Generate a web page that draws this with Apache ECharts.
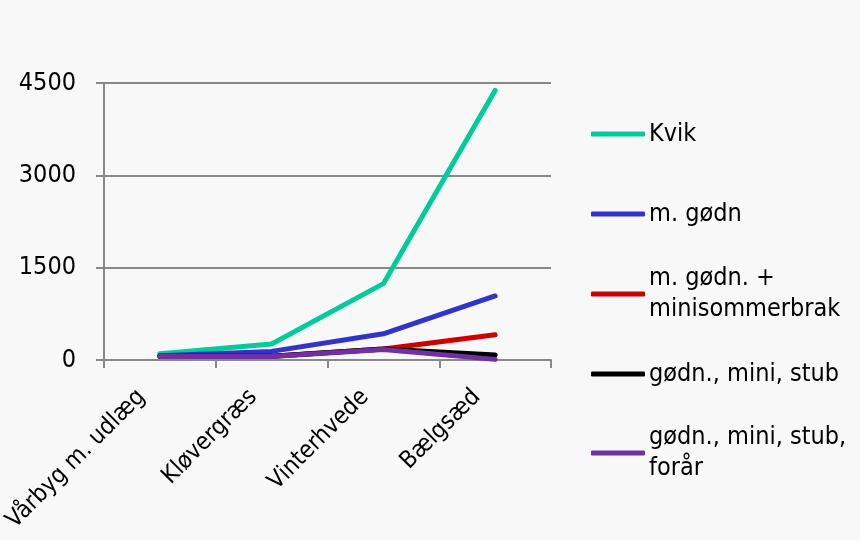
<!DOCTYPE html>
<html>
<head>
<meta charset="utf-8">
<script src="https://cdn.jsdelivr.net/npm/echarts@6/dist/echarts.min.js"></script>
<style>html,body{margin:0;padding:0;background:#f8f8f8}#c{width:860px;height:540px}</style>
</head>
<body>
<div id="c"></div>
<script>
const categories = ['Vårbyg m. udlæg', 'Kløvergræs', 'Vinterhvede', 'Bælgsæd'];
const seriesNames = ['Kvik', 'm. gødn', 'm. gødn. +\nminisommerbrak', 'gødn., mini, stub', 'gødn., mini, stub,\nforår'];
const kvik = [100, 260, 1240, 4380];
const mGodn = [70, 140, 425, 1040];
const mGodnMini = [60, 60, 180, 410];
const godnMiniStub = [60, 60, 180, 80];
const godnMiniStubForar = [55, 55, 170, 10];
const yTicks = [0, 1500, 3000, 4500];
const colors = ['#00cc99', '#3333cc', '#cc0000', '#000000', '#7030a0'];
const values = [kvik, mGodn, mGodnMini, godnMiniStub, godnMiniStubForar];

const FONT = "'DejaVu Sans Condensed', 'DejaVu Sans', sans-serif";
const FS = 25;
const LH = 31;
const legendCenters = [132, 212, 292, 372, 451];

const chart = echarts.init(document.getElementById('c'), null, {renderer: 'canvas'});

const legends = seriesNames.map((n, i) => {
  const multi = n.indexOf('\n') >= 0;
  return {
    show: true,
    orient: 'vertical',
    left: 591,
    top: multi ? legendCenters[i] - 1.5 * LH + 2 : legendCenters[i] - LH / 2 + 2,
    padding: 0,
    itemWidth: 54,
    itemHeight: 5,
    itemGap: 0,
    icon: 'roundRect',
    data: [{name: n, icon: 'roundRect', itemStyle: {color: colors[i]}}],
    textStyle: {
      fontFamily: FONT, fontSize: FS, color: '#000', lineHeight: LH,
      padding: multi ? [LH, 0, 0, -1] : [0, 0, 0, -1]
    },
    selectedMode: false
  };
});

chart.setOption({
  backgroundColor: '#f8f8f8',
  animation: false,
  textStyle: {fontFamily: FONT},
  grid: {left: 104, right: 309, top: 83, bottom: 180, containLabel: false, outerBoundsMode: 'none'},
  legend: legends,
  xAxis: {
    type: 'category',
    data: categories,
    boundaryGap: true,
    axisLine: {lineStyle: {color: '#888', width: 2}},
    axisTick: {show: true, length: 8, lineStyle: {color: '#888', width: 2}, alignWithLabel: false},
    axisLabel: {rotate: 45, margin: 15, padding: [0, 26, 0, 0], fontFamily: FONT, fontSize: 24, color: '#000', interval: 0}
  },
  yAxis: {
    type: 'value',
    min: yTicks[0],
    max: yTicks[yTicks.length - 1],
    interval: yTicks[1] - yTicks[0],
    axisLine: {show: true, lineStyle: {color: '#888', width: 2}},
    axisTick: {show: true, length: 8, lineStyle: {color: '#888', width: 2}},
    splitLine: {show: true, lineStyle: {color: '#888', width: 2}},
    axisLabel: {margin: 28, fontFamily: FONT, fontSize: FS, color: '#000', formatter: v => String(v)}
  },
  series: seriesNames.map((n, i) => ({
    name: n,
    type: 'line',
    data: values[i],
    symbol: 'none',
    lineStyle: {color: colors[i], width: 5, cap: 'round', join: 'round'},
    itemStyle: {color: colors[i]},
    z: 2 + i
  }))
});
</script>
</body>
</html>
